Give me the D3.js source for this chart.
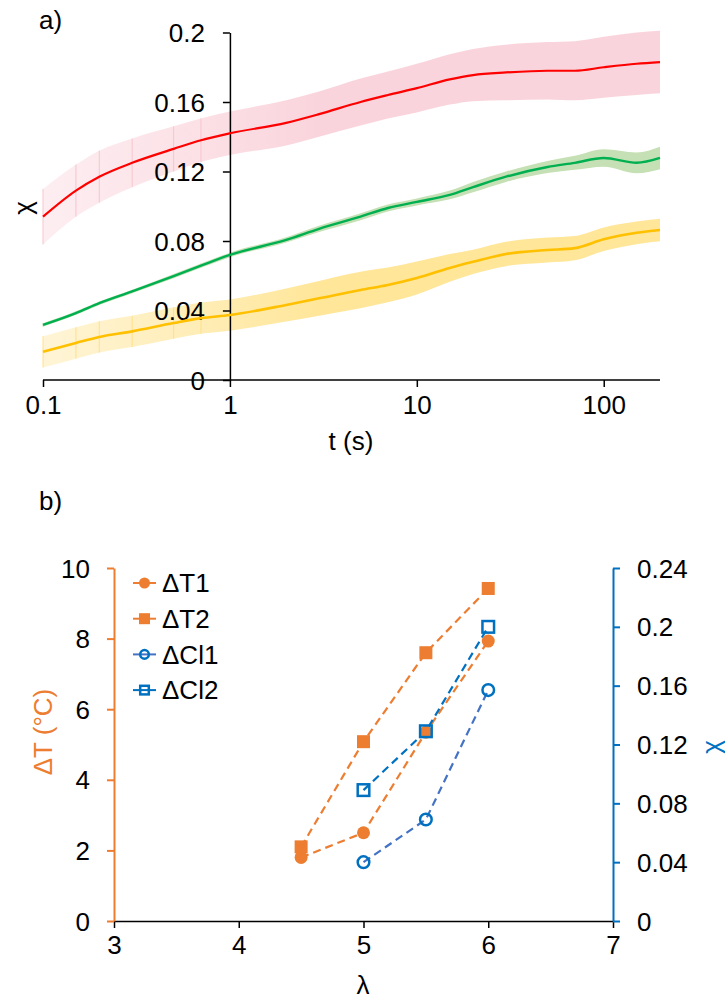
<!DOCTYPE html>
<html><head><meta charset="utf-8">
<script src="https://cdn.jsdelivr.net/npm/d3@7"></script>
<style>body{margin:0;background:#fff}svg{display:block;font-family:"Liberation Sans",Arial,sans-serif}</style>
</head><body>
<svg id="c" width="725" height="1003"></svg>
<script>
// ---- Panel a) data ----
const tVals = [0.1,0.15,0.2,0.3,0.5,0.7,1,2,3,5,7,10,15,20,30,50,70,100,150,200];
const redMean = [0.094,0.109,0.117,0.125,0.133,0.138,0.142,0.148,0.153,0.160,0.164,0.168,0.173,0.1755,0.177,0.178,0.178,0.180,0.182,0.183];
const redErr  = [0.016,0.015,0.015,0.014,0.013,0.0125,0.0125,0.013,0.013,0.0135,0.0135,0.014,0.0145,0.015,0.016,0.0165,0.017,0.0175,0.018,0.018];
const greenMean = [0.0317,0.0385,0.0442,0.051,0.0598,0.0658,0.072,0.0806,0.087,0.094,0.099,0.1025,0.1065,0.111,0.117,0.1226,0.125,0.1278,0.125,0.1278];
const greenErr  = [0.001,0.001,0.001,0.001,0.0012,0.0012,0.0013,0.0015,0.0018,0.002,0.002,0.002,0.0025,0.003,0.003,0.0035,0.004,0.005,0.006,0.0065];
const yellowMean = [0.0162,0.0213,0.0248,0.0280,0.0328,0.0356,0.0374,0.0432,0.047,0.0518,0.0547,0.0587,0.0645,0.068,0.0725,0.0748,0.0759,0.081,0.0847,0.0863];
const yellowErr  = [0.009,0.009,0.009,0.009,0.009,0.009,0.009,0.0095,0.010,0.0105,0.010,0.0095,0.008,0.007,0.007,0.0072,0.007,0.0068,0.0065,0.0065];
const aXTicks = [0.1,1,10,100];
const aXTickLabels = ["0.1","1","10","100"];
const aYTicks = [0,0.04,0.08,0.12,0.16,0.2];
const aYTickLabels = ["0","0.04","0.08","0.12","0.16","0.2"];

// ---- Panel b) data ----
const lambdaT1 = [4.5,5,5.5,6];
const dT1 = [1.8,2.5,5.35,7.93];
const lambdaT2 = [4.5,5,5.5,6];
const dT2 = [2.1,5.08,7.6,9.42];
const lambdaCl = [5,5.5,6];
const dCl1 = [0.04,0.069,0.157];
const dCl2 = [0.089,0.129,0.2];
const bXTicks = [3,4,5,6,7];
const bYLeftTicks = [0,2,4,6,8,10];
const bYRightTicks = [0,0.04,0.08,0.12,0.16,0.2,0.24];
const bYRightLabels = ["0","0.04","0.08","0.12","0.16","0.2","0.24"];
const legendNames = ["ΔT1","ΔT2","ΔCl1","ΔCl2"];

const svg = d3.select("#c");
const FS = 26;
const ORANGE = "#ed7d31", BLUE = "#0070c0", BLUE2 = "#4472c4";

// ================= Panel a =================
const xa = d3.scaleLog().domain([0.1,200]).range([43,660]);
const ya = d3.scaleLinear().domain([0,0.2]).range([380,32.5]);

const defs = svg.append("defs");
function bandGrad(id,color){
  const g = defs.append("linearGradient").attr("id",id).attr("gradientUnits","userSpaceOnUse")
    .attr("x1",xa(0.1)).attr("x2",xa(3)).attr("y1",0).attr("y2",0);
  g.append("stop").attr("offset",0).attr("stop-color",color).attr("stop-opacity",0.4);
  g.append("stop").attr("offset",0.55).attr("stop-opacity",0.7).attr("stop-color",color);
  g.append("stop").attr("offset",1).attr("stop-color",color).attr("stop-opacity",1);
}
bandGrad("gRed","#fad4dc");
bandGrad("gYel","#ffe699");

const series = [
  {mean:redMean, err:redErr, line:"#ff0000", band:"url(#gRed)", bar:"#f7c5cf", lw:2.2},
  {mean:greenMean, err:greenErr, line:"#00b050", band:"#c5e0b4", bar:"#c5e0b4", lw:2.4},
  {mean:yellowMean, err:yellowErr, line:"#ffc000", band:"url(#gYel)", bar:"#ffe08a", lw:2.6}
];
const gA = svg.append("g");
series.forEach(s=>{
  const pts = tVals.map((t,i)=>({t, m:s.mean[i], e:s.err[i]}));
  gA.append("path").datum(pts)
    .attr("d", d3.area().x(d=>xa(d.t)).y0(d=>ya(d.m-d.e)).y1(d=>ya(d.m+d.e)).curve(d3.curveMonotoneX))
    .attr("fill", s.band);
  gA.selectAll(null).data(pts.filter(d=>d.t<2)).enter().append("line")
    .attr("x1",d=>xa(d.t)).attr("x2",d=>xa(d.t))
    .attr("y1",d=>ya(d.m-d.e)).attr("y2",d=>ya(d.m+d.e))
    .attr("stroke", s.bar).attr("stroke-width",1);
});

// axes a
const axXa = svg.append("g").attr("transform","translate(0,380)")
  .call(d3.axisBottom(xa).tickValues(aXTicks).tickFormat((d,i)=>aXTickLabels[i]).tickSize(7).tickSizeOuter(0).tickPadding(9));
axXa.select(".domain").attr("d",`M${xa(0.1)},0H${xa(200)}`);
const axYa = svg.append("g").attr("transform",`translate(${xa(1)},0)`)
  .call(d3.axisLeft(ya).tickValues(aYTicks).tickFormat((d,i)=>aYTickLabels[i]).tickSize(7).tickSizeOuter(0).tickPadding(18));
[axXa,axYa].forEach(a=>{
  a.select(".domain").attr("stroke","#000").attr("stroke-width",1.5);
  a.selectAll(".tick line").attr("stroke","#000").attr("stroke-width",1.5);
  a.selectAll(".tick text").attr("font-size",FS).attr("fill","#000").attr("font-family","Liberation Sans, Arial, sans-serif");
});
axYa.selectAll(".tick text").attr("dy","0.35em");

series.forEach(s=>{
  const pts = tVals.map((t,i)=>({t, m:s.mean[i]}));
  svg.append("path").datum(pts)
    .attr("d", d3.line().x(d=>xa(d.t)).y(d=>ya(d.m)).curve(d3.curveMonotoneX))
    .attr("fill","none").attr("stroke",s.line).attr("stroke-width",s.lw);
});

svg.append("text").attr("x",39).attr("y",29).attr("font-size",FS).text("a)");
svg.append("text").attr("transform","translate(32,208) rotate(-90)").attr("text-anchor","middle")
  .attr("font-size",FS).text("χ");
svg.append("text").attr("x",351).attr("y",450).attr("text-anchor","middle").attr("font-size",FS).text("t (s)");

// ================= Panel b =================
const xb = d3.scaleLinear().domain([3,7]).range([114,613]);
const ybL = d3.scaleLinear().domain([0,10]).range([921,568]);
const ybR = d3.scaleLinear().domain([0,0.24]).range([921,568]);

const axXb = svg.append("g").attr("transform","translate(0,921)")
  .call(d3.axisBottom(xb).tickValues(bXTicks).tickFormat(d3.format("d")).tickSize(7).tickSizeOuter(0).tickPadding(8));
axXb.select(".domain").attr("stroke","#000").attr("stroke-width",1.5);
axXb.selectAll(".tick line").attr("stroke","#000").attr("stroke-width",1.5);
axXb.selectAll(".tick text").attr("font-size",FS).attr("fill","#000");

const axL = svg.append("g").attr("transform","translate(114,0)")
  .call(d3.axisLeft(ybL).tickValues(bYLeftTicks).tickFormat(d3.format("d")).tickSize(7).tickSizeOuter(0).tickPadding(17));
axL.select(".domain").attr("stroke",ORANGE).attr("stroke-width",2);
axL.selectAll(".tick line").attr("stroke",ORANGE).attr("stroke-width",2);
axL.selectAll(".tick text").attr("font-size",FS).attr("fill","#000").attr("dy","0.35em");

const axR = svg.append("g").attr("transform","translate(613,0)")
  .call(d3.axisRight(ybR).tickValues(bYRightTicks).tickFormat((d,i)=>bYRightLabels[i]).tickSize(7).tickSizeOuter(0).tickPadding(17));
axR.select(".domain").attr("stroke",BLUE).attr("stroke-width",2);
axR.selectAll(".tick line").attr("stroke",BLUE).attr("stroke-width",2);
axR.selectAll(".tick text").attr("font-size",FS).attr("fill","#000").attr("dy","0.35em");

function dashed(xs, ys, yScale, color){
  svg.append("path").datum(xs.map((x,i)=>[x,ys[i]]))
    .attr("d", d3.line().x(d=>xb(d[0])).y(d=>yScale(d[1])))
    .attr("fill","none").attr("stroke",color).attr("stroke-width",2.2).attr("stroke-dasharray","8,5");
}
dashed(lambdaT1,dT1,ybL,ORANGE);
dashed(lambdaT2,dT2,ybL,ORANGE);
dashed(lambdaCl,dCl1,ybR,BLUE2);
dashed(lambdaCl,dCl2,ybR,BLUE);

function marker(g, type, x, y, size){
  const h = size/2;
  if(type==="fc") g.append("circle").attr("cx",x).attr("cy",y).attr("r",h).attr("fill",ORANGE);
  if(type==="fs") g.append("rect").attr("x",x-h).attr("y",y-h).attr("width",size).attr("height",size).attr("fill",ORANGE);
  if(type==="oc") g.append("circle").attr("cx",x).attr("cy",y).attr("r",h-1.2).attr("fill","none").attr("stroke",BLUE).attr("stroke-width",2.5);
  if(type==="os") g.append("rect").attr("x",x-h+1.2).attr("y",y-h+1.2).attr("width",size-2.4).attr("height",size-2.4).attr("fill","none").attr("stroke",BLUE).attr("stroke-width",2.5);
}
const gm = svg.append("g");
lambdaT1.forEach((l,i)=>marker(gm,"fc",xb(l),ybL(dT1[i]),13));
lambdaT2.forEach((l,i)=>marker(gm,"fs",xb(l),ybL(dT2[i]),13));
lambdaCl.forEach((l,i)=>marker(gm,"oc",xb(l),ybR(dCl1[i]),14));
lambdaCl.forEach((l,i)=>marker(gm,"os",xb(l),ybR(dCl2[i]),14));

const legTypes = ["fc","fs","oc","os"];
const legLine = [ORANGE,ORANGE,BLUE2,BLUE];
const lg = svg.append("g");
legendNames.forEach((n,i)=>{
  const y = 583 + i*35.7;
  lg.append("line").attr("x1",133).attr("x2",156).attr("y1",y).attr("y2",y).attr("stroke",legLine[i]).attr("stroke-width",2);
  marker(lg, legTypes[i], 144.5, y, 11);
  lg.append("text").attr("x",162).attr("y",y).attr("dy","0.36em").attr("font-size",FS).text(n);
});

svg.append("text").attr("x",39).attr("y",510).attr("font-size",FS).text("b)");
svg.append("text").attr("transform","translate(52,732) rotate(-90)").attr("text-anchor","middle")
  .attr("font-size",FS).attr("fill",ORANGE).text("ΔT (°C)");
svg.append("text").attr("transform","translate(720,747) rotate(-90)").attr("text-anchor","middle")
  .attr("font-size",FS).attr("fill",BLUE).text("χ");
svg.append("text").attr("x",363).attr("y",994).attr("text-anchor","middle").attr("font-size",FS).text("λ");
</script>
</body></html>
